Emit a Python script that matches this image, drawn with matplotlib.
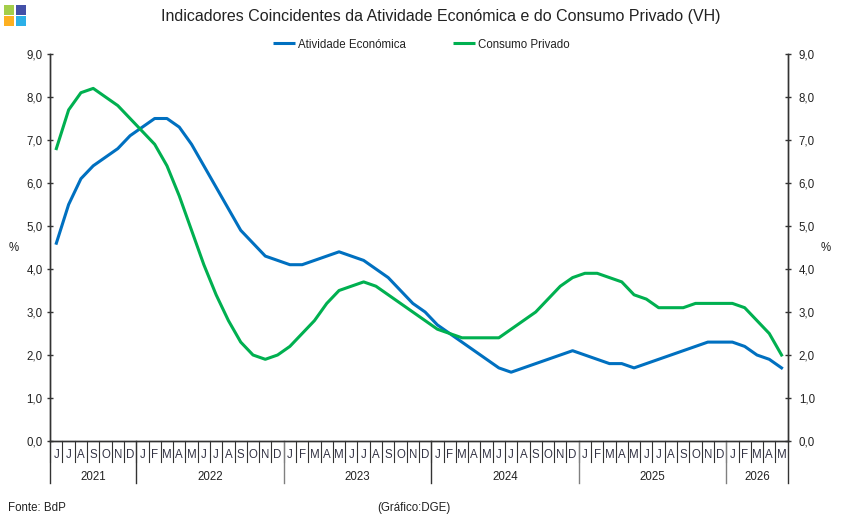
"""
Indicadores coincidentes (atividade economica e consumo privado), VH mensal
"""

import matplotlib
matplotlib.use('Agg')
import numpy as np
import matplotlib.pyplot as plt
from matplotlib.patches import Rectangle

plt.rcParams['font.family'] = ['Liberation Sans', 'DejaVu Sans']

months = ['J','J','A','S','O','N','D',
          'J','F','M','A','M','J','J','A','S','O','N','D',
          'J','F','M','A','M','J','J','A','S','O','N','D',
          'J','F','M','A','M','J','J','A','S','O','N','D',
          'J','F','M','A','M','J','J','A','S','O','N','D',
          'J','F','M','A','M']
years = ['2021', '2022', '2023', '2024', '2025', '2026']
months_per_year = [7, 12, 12, 12, 12, 5]
year_line_colors = ['#333333', '#333333', '#808080', '#333333', '#808080', '#808080']

atividade = [4.6, 5.5, 6.1, 6.4, 6.6, 6.8, 7.1,
             7.3, 7.5, 7.5, 7.3, 6.9, 6.4, 5.9, 5.4, 4.9, 4.6, 4.3, 4.2,
             4.1, 4.1, 4.2, 4.3, 4.4, 4.3, 4.2, 4.0, 3.8, 3.5, 3.2, 3.0,
             2.7, 2.5, 2.3, 2.1, 1.9, 1.7, 1.6, 1.7, 1.8, 1.9, 2.0, 2.1,
             2.0, 1.9, 1.8, 1.8, 1.7, 1.8, 1.9, 2.0, 2.1, 2.2, 2.3, 2.3,
             2.3, 2.2, 2.0, 1.9, 1.7]
consumo = [6.8, 7.7, 8.1, 8.2, 8.0, 7.8, 7.5,
           7.2, 6.9, 6.4, 5.7, 4.9, 4.1, 3.4, 2.8, 2.3, 2.0, 1.9, 2.0,
           2.2, 2.5, 2.8, 3.2, 3.5, 3.6, 3.7, 3.6, 3.4, 3.2, 3.0, 2.8,
           2.6, 2.5, 2.4, 2.4, 2.4, 2.4, 2.6, 2.8, 3.0, 3.3, 3.6, 3.8,
           3.9, 3.9, 3.8, 3.7, 3.4, 3.3, 3.1, 3.1, 3.1, 3.2, 3.2, 3.2,
           3.2, 3.1, 2.8, 2.5, 2.0]
yticks = [0, 1, 2, 3, 4, 5, 6, 7, 8, 9]
yticklabels = ['0,0', '1,0', '2,0', '3,0', '4,0', '5,0', '6,0', '7,0', '8,0', '9,0']

W, H = 843, 525
TXT = '#222222'
AXC = '#333333'
FS = 8.3

fig = plt.figure(figsize=(W/100, H/100), dpi=100)
ax = fig.add_axes([50.2/W, 1-441/H, 737.5/W, 387/H])

x = np.arange(len(months)) + 0.5
ax.plot(x, atividade, color='#0070C0', lw=2.2, label='Atividade Económica', zorder=3)
ax.plot(x, consumo, color='#00B050', lw=2.2, label='Consumo Privado', zorder=3)

ax.set_xlim(0, len(months))
ax.set_ylim(0, 9)
ax.set_xticks([])
ax.set_yticks(yticks)
ax.set_yticklabels(yticklabels, fontsize=FS, color=TXT)
ax.tick_params(axis='y', direction='inout', length=5, width=1, color=AXC, pad=3)

ax2 = ax.twinx()
ax2.set_ylim(0, 9)
ax2.set_yticks(yticks)
ax2.set_yticklabels(yticklabels, fontsize=FS, color=TXT)
ax2.tick_params(axis='y', direction='inout', length=5, width=1, color=AXC, pad=5.5)

for a in [ax, ax2]:
    a.spines['top'].set_visible(False)
    for s in ['left', 'right', 'bottom']:
        a.spines[s].set_color(AXC)
        a.spines[s].set_linewidth(1)

# month and year bands under the axis
tr = ax.get_xaxis_transform()
px = 1/387
for i, m in enumerate(months):
    ax.text(i+0.5, -14.5*px, m, transform=tr, ha='center', va='center', fontsize=FS, color='#333344', clip_on=False)
    ax.plot([i, i], [0, -21*px], transform=tr, color=AXC, lw=0.8, clip_on=False)
ax.plot([len(months)]*2, [0, -42*px], transform=tr, color=AXC, lw=1, clip_on=False)
start = 0
for y, n, c in zip(years, months_per_year, year_line_colors):
    ax.plot([start, start], [0, -42*px], transform=tr, color=c, lw=1, clip_on=False, zorder=4)
    ax.text(start+n/2, -36*px, y, transform=tr, ha='center', va='center', fontsize=FS, color=TXT, clip_on=False)
    start += n

fig.text(441/W, 1-17/H, 'Indicadores Coincidentes da Atividade Económica e do Consumo Privado (VH)',
         ha='center', va='center', fontsize=11.5, color=TXT)
fig.text(14/W, 1-248/H, '%', ha='center', va='center', fontsize=FS, color=TXT)
fig.text(826/W, 1-248/H, '%', ha='center', va='center', fontsize=FS, color=TXT)
fig.text(8/W, 1-508/H, 'Fonte: BdP', ha='left', va='center', fontsize=FS, color=TXT)
fig.text(414/W, 1-508/H, '(Gráfico:DGE)', ha='center', va='center', fontsize=FS, color=TXT)

leg = fig.legend(loc='center', bbox_to_anchor=(421/W, 1-44.5/H), ncol=2, frameon=False, fontsize=FS,
                 handlelength=1.9, handletextpad=0.25, columnspacing=4.1, labelcolor=TXT,
                 borderpad=0, borderaxespad=0)
for line in leg.get_lines():
    line.set_solid_capstyle('butt')

# logo squares
logo = [(4, 5, '#A4CE4A'), (15.5, 5, '#4350A8'), (4, 16, '#FDB021'), (15.5, 16, '#2CB0E8')]
for lx, ly, c in logo:
    fig.add_artist(Rectangle((lx/W, 1-(ly+10)/H), 10/W, 10/H, transform=fig.transFigure, color=c, lw=0))

fig.savefig('out.png', dpi=100, facecolor='white')
